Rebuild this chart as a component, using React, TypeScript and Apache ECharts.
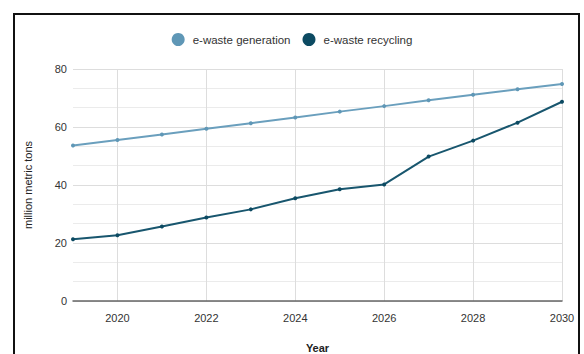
import React, { useEffect, useRef } from "react";
import * as echarts from "echarts";

const years = ["2019", "2020", "2021", "2022", "2023", "2024", "2025", "2026", "2027", "2028", "2029", "2030"];
const generation = [53.6, 55.5, 57.4, 59.4, 61.3, 63.3, 65.3, 67.2, 69.2, 71.1, 73.0, 74.8];
const recycling = [21.3, 22.7, 25.7, 28.8, 31.6, 35.4, 38.5, 40.2, 49.8, 55.3, 61.5, 68.7];
const seriesNames = ["e-waste generation", "e-waste recycling"];

export default function App() {
  const ref = useRef<HTMLDivElement>(null);
  useEffect(() => {
    if (!ref.current) return;
    const chart = echarts.init(ref.current, undefined, { renderer: "svg" });
    const font = "'Liberation Sans', Arial, sans-serif";
    const showOdd = (i: number) => i % 2 === 1;
    chart.setOption({
      animation: false,
      backgroundColor: "#ffffff",
      textStyle: { fontFamily: font },
      graphic: [
        {
          type: "rect",
          shape: { x: 14, y: 14, width: 565, height: 360 },
          style: { fill: "none", stroke: "#111", lineWidth: 2 },
          silent: true,
          z: 100,
        },
      ],
      legend: {
        top: 28,
        left: "center",
        itemGap: 12,
        itemWidth: 13,
        itemHeight: 13,
        icon: "circle",
        textStyle: { fontSize: 11.5, color: "#333", fontFamily: font, padding: [0, 0, 0, 3] },
        data: seriesNames,
      },
      grid: { left: 73, right: 22, top: 69, bottom: 53, outerBoundsMode: "none", containLabel: false },
      xAxis: {
        type: "category",
        data: years,
        boundaryGap: false,
        name: "Year",
        nameLocation: "middle",
        nameGap: 41,
        nameTextStyle: { fontSize: 11, color: "#222", fontWeight: "bold", fontFamily: font },
        axisLine: { show: true, lineStyle: { color: "#666", width: 1.5 } },
        axisTick: { show: false },
        axisLabel: { interval: showOdd, fontSize: 11, color: "#333", margin: 11, fontFamily: font },
        splitLine: { show: true, interval: showOdd, lineStyle: { color: "#dddddd", width: 1 } },
      },
      yAxis: {
        type: "value",
        min: 0,
        max: 80,
        interval: 20,
        name: "million metric tons",
        nameLocation: "middle",
        nameGap: 40,
        nameTextStyle: { fontSize: 11, color: "#222", fontFamily: font },
        axisLine: { show: false },
        axisTick: { show: false },
        axisLabel: { fontSize: 11, color: "#333", margin: 6, fontFamily: font },
        splitLine: { show: true, lineStyle: { color: "#dddddd", width: 1 } },
        minorTick: { show: false, splitNumber: 3 },
        minorSplitLine: { show: true, lineStyle: { color: "#ebebeb", width: 1 } },
      },
      series: [
        {
          name: seriesNames[0],
          type: "line",
          data: generation,
          symbol: "circle",
          symbolSize: 4,
          color: "#5f97b6",
          lineStyle: { width: 2, color: "#6a9fbd" },
          itemStyle: { color: "#5f97b6" },
        },
        {
          name: seriesNames[1],
          type: "line",
          data: recycling,
          symbol: "circle",
          symbolSize: 4,
          color: "#0c4a62",
          lineStyle: { width: 2, color: "#18566e" },
          itemStyle: { color: "#0c4a62" },
        },
      ],
    });
    return () => chart.dispose();
  }, []);
  return (
    <div
      ref={ref}
      style={{ position: "absolute", left: 0, top: 0, width: 584, height: 354, background: "#fff" }}
    />
  );
}
